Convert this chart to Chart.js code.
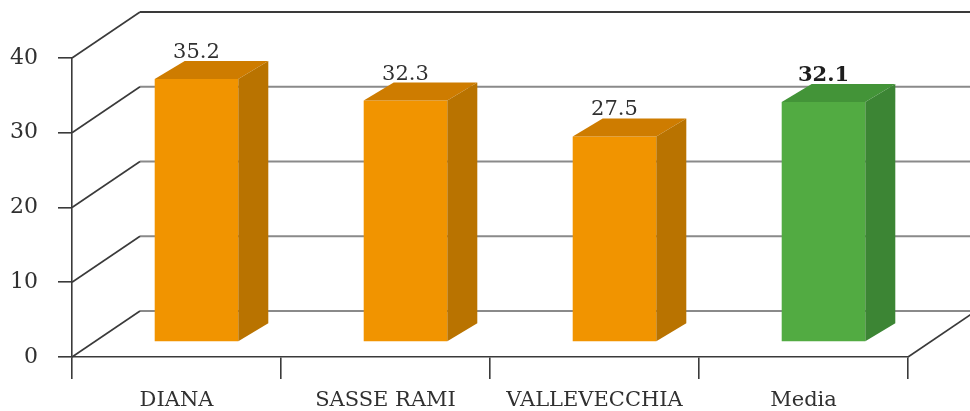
<!DOCTYPE html>
<html>
<head>
<meta charset="utf-8">
<script src="https://cdn.jsdelivr.net/npm/chart.js@4/dist/chart.umd.min.js"></script>
<style>
    html, body { margin: 0; padding: 0; background: #fff; }
    #wrap { width: 970px; height: 411px; position: relative; }
</style>
</head>
<body>
<div id="wrap"><canvas id="chart"></canvas></div>
<script>
// ============================
// Data
// ============================
const CATEGORIES = ["DIANA", "SASSE RAMI", "VALLEVECCHIA", "Media"];
const VALUES = [35.2, 32.3, 27.5, 32.1];
const Y_TICKS = [0, 10, 20, 30, 40];
const HIGHLIGHT = ["Media"];   // drawn green + bold label

(function () {
    "use strict";

    // ============================
    // Styles / 3D geometry
    // ============================
    const FONT = "'DejaVu Serif', 'Liberation Serif', serif";
    const AXIS_COLOR = "#3a3a3a";
    const GRID_COLOR = "#8a8a8a";
    const TEXT_COLOR = "#303030";

    const WALL = { dx: 68, dy: -46 };       // depth of back wall
    const BAR_SHIFT = { dx: 20, dy: -15 };  // bars sit a bit into the floor
    const BAR_DEPTH = { dx: 30, dy: -18 };  // thickness of each bar

    const ORANGE = { front: "rgb(241,148,0)", top: "rgb(206,124,0)", side: "rgb(185,115,0)" };
    const GREEN = { front: "rgb(82,171,66)", top: "rgb(67,148,56)", side: "rgb(60,133,52)" };

    function paletteFor(i) {
        return HIGHLIGHT.includes(CATEGORIES[i]) ? GREEN : ORANGE;
    }

    function line(ctx, x1, y1, x2, y2) {
        ctx.beginPath();
        ctx.moveTo(x1, y1);
        ctx.lineTo(x2, y2);
        ctx.stroke();
    }

    function poly(ctx, pts, fill) {
        ctx.beginPath();
        ctx.moveTo(pts[0][0], pts[0][1]);
        for (let i = 1; i < pts.length; i++) ctx.lineTo(pts[i][0], pts[i][1]);
        ctx.closePath();
        ctx.fillStyle = fill;
        ctx.fill();
    }

    // ============================
    // Plugin: walls, floor, bar faces, labels
    // ============================
    const box3d = {
        id: "box3d",
        beforeDatasetsDraw(chart) {
            const { ctx, chartArea: a } = chart;
            const y = chart.scales.y;

            ctx.save();
            for (const v of Y_TICKS) {
                const py = y.getPixelForValue(v);
                ctx.strokeStyle = v === y.max ? AXIS_COLOR : GRID_COLOR;
                ctx.lineWidth = 2;
                line(ctx, a.left + WALL.dx, py + WALL.dy, a.right + WALL.dx, py + WALL.dy);

                ctx.strokeStyle = AXIS_COLOR;
                ctx.lineWidth = 1.6;
                line(ctx, a.left, py, a.left + WALL.dx, py + WALL.dy);
            }
            // floor right edge
            ctx.strokeStyle = AXIS_COLOR;
            ctx.lineWidth = 1.6;
            line(ctx, a.right, a.bottom, a.right + WALL.dx, a.bottom + WALL.dy);
            ctx.restore();

            // bars are drawn shifted into depth
            ctx.save();
            ctx.translate(BAR_SHIFT.dx, BAR_SHIFT.dy);
        },
        afterDatasetsDraw(chart) {
            const ctx = chart.ctx;
            const meta = chart.getDatasetMeta(0);

            meta.data.forEach((bar, i) => {
                const p = bar.getProps(["x", "y", "base", "width"], true);
                const l = p.x - p.width / 2, r = p.x + p.width / 2;
                const t = p.y, b = p.base;
                const c = paletteFor(i);
                poly(ctx, [[l, t], [r, t], [r + BAR_DEPTH.dx, t + BAR_DEPTH.dy], [l + BAR_DEPTH.dx, t + BAR_DEPTH.dy]], c.top);
                poly(ctx, [[r, t], [r + BAR_DEPTH.dx, t + BAR_DEPTH.dy], [r + BAR_DEPTH.dx, b + BAR_DEPTH.dy], [r, b]], c.side);
            });
            ctx.restore();

            // value labels
            ctx.save();
            ctx.textAlign = "center";
            ctx.textBaseline = "alphabetic";
            meta.data.forEach((bar, i) => {
                const bold = HIGHLIGHT.includes(CATEGORIES[i]);
                ctx.font = (bold ? "bold " : "") + "21px " + FONT;
                ctx.fillStyle = bold ? "#1e1e1e" : TEXT_COLOR;
                ctx.fillText(VALUES[i].toFixed(1), bar.x + BAR_SHIFT.dx, bar.y + BAR_SHIFT.dy - 21);
            });
            ctx.restore();
        }
    };

    // ============================
    // Chart
    // ============================
    const ctx = document.getElementById("chart").getContext("2d");
    new Chart(ctx, {
        type: "bar",
        data: {
            labels: CATEGORIES,
            datasets: [{
                data: VALUES,
                backgroundColor: CATEGORIES.map((_, i) => paletteFor(i).front),
                borderWidth: 0,
                categoryPercentage: 1,
                barPercentage: 0.4,
                clip: false
            }]
        },
        options: {
            responsive: true,
            maintainAspectRatio: false,
            animation: false,
            layout: { padding: { top: 58, right: 62, left: 0, bottom: 0 } },
            plugins: { legend: { display: false }, tooltip: { enabled: false } },
            scales: {
                x: {
                    offset: true,
                    afterFit: (s) => { s.height = 54; },
                    grid: { offset: true, drawOnChartArea: false, tickLength: 22, color: AXIS_COLOR, lineWidth: 1.6 },
                    border: { display: true, color: AXIS_COLOR, width: 1.6 },
                    ticks: { padding: 9, color: TEXT_COLOR, font: { family: FONT, size: 21 } }
                },
                y: {
                    min: 0,
                    max: 40,
                    afterBuildTicks: (s) => { s.ticks = Y_TICKS.map(v => ({ value: v })); },
                    afterFit: (s) => { s.width = 72; },
                    grid: { drawOnChartArea: false, tickLength: 14, color: AXIS_COLOR, lineWidth: 1.6 },
                    border: { display: true, color: AXIS_COLOR, width: 1.6 },
                    ticks: { padding: 20, color: TEXT_COLOR, font: { family: FONT, size: 22 } }
                }
            }
        },
        plugins: [box3d]
    });
})();
</script>
</body>
</html>
